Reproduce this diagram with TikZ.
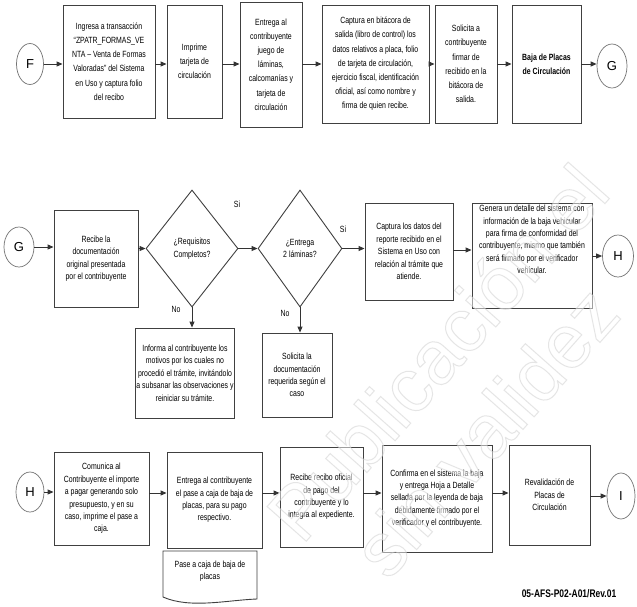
\documentclass[tikz,border=0pt]{standalone}
\usepackage{fontspec}
\setmainfont{Liberation Sans}[FakeStretch=0.77]
\newfontfamily\wmfont{Liberation Sans}
\usetikzlibrary{shapes.geometric,arrows.meta}

% outlined lettering for the watermark (stroke + white fill)
\newcommand\outlineon{\special{pdf:code 2 Tr 1 w 0.8 G 1 g}}
\newcommand\outlineoff{\special{pdf:code 0 Tr}}

\tikzset{
  box/.style={draw=black!75, line width=0.9pt, align=center, inner sep=1pt,
              font=\fontsize{9}{12.4}\selectfont},
  tallbox/.style={box, font=\fontsize{9}{14.2}\selectfont},
  conn/.style={ellipse, draw=black!55, line width=0.7pt, inner sep=0pt,
               font=\wmfont\fontsize{13}{13}\selectfont},
  decision/.style={diamond, draw=black!75, line width=0.9pt, inner sep=0pt,
                   align=center, font=\fontsize{9}{12.4}\selectfont},
  arr/.style={draw=black!80, line width=0.9pt, -{Triangle[length=6pt,width=5pt]}},
  lbl/.style={font=\fontsize{9}{10}\selectfont, inner sep=0pt},
  docshape/.style={draw=black!75, line width=0.9pt},
  wm/.style={anchor=base west, inner sep=0pt, rotate=48.5, text opacity=0.5,
             font=\wmfont\fontsize{76}{76}\selectfont}
}

\begin{document}
\begin{tikzpicture}[x=1pt,y=-1pt]
\useasboundingbox (0,0) rectangle (637,606);
\fill[white] (0,0) rectangle (637,606);

% ---------- first row ----------
\coordinate (r1) at (0,64);
\node[conn, minimum width=27pt, minimum height=41pt] (F) at (30,64) {F};
\node[tallbox, minimum width=92pt, minimum height=113pt] (b1) at (109,61.5)
  {Ingresa a transacción\\“ZPATR\_FORMAS\_VE\\NTA – Venta de Formas\\Valoradas” del Sistema\\en Uso y captura folio\\del recibo};
\node[tallbox, minimum width=55pt, minimum height=113pt] (b2) at (194.5,61.5)
  {Imprime\\tarjeta de\\circulación};
\node[tallbox, minimum width=62pt, minimum height=125pt] (b3) at (271,64.5)
  {Entrega al\\contribuyente\\juego de\\láminas,\\calcomanías y\\tarjeta de\\circulación};
\node[tallbox, minimum width=107pt, minimum height=118pt] (b4) at (375.5,64)
  {Captura en bitácora de\\salida (libro de control) los\\datos relativos a placa, folio\\de tarjeta de circulación,\\ejercicio fiscal, identificación\\oficial, así como nombre y\\firma de quien recibe.};
\node[tallbox, minimum width=62pt, minimum height=118pt] (b5) at (466,64)
  {Solicita a\\contribuyente\\firmar de\\recibido en la\\bitácora de\\salida.};
\node[tallbox, minimum width=69pt, minimum height=118pt, font=\bfseries\fontsize{9}{14.2}\selectfont] (b6) at (546.5,64)
  {Baja de Placas\\de Circulación};
\node[conn, minimum width=30pt, minimum height=44pt] (G1) at (612,66) {G};

\draw[arr] (F.east) -- (F.east -| b1.west);
\draw[arr] (b1.east |- r1) -- (b2.west |- r1);
\draw[arr] (b2.east |- r1) -- (b3.west |- r1);
\draw[arr] (b3.east |- r1) -- (b4.west |- r1);
\draw[arr] (b4.east |- r1) -- (b5.west |- r1);
\draw[arr] (b5.east |- r1) -- (b6.west |- r1);
\draw[arr] (b6.east |- r1) -- (G1.west |- r1);

% ---------- second row ----------
\coordinate (r2) at (0,250);
\node[conn, minimum width=30pt, minimum height=40pt] (G2) at (19,247) {G};
\node[box, minimum width=84pt, minimum height=97pt] (c1) at (96,258.5)
  {Recibe la\\documentación\\original presentada\\por el contribuyente};
\node[decision, minimum width=92pt, minimum height=117pt] (d1) at (192,248.5)
  {¿Requisitos\\Completos?};
\node[decision, minimum width=84pt, minimum height=117pt] (d2) at (300,248.5)
  {¿Entrega\\2 láminas?};
\node[box, minimum width=88pt, minimum height=97pt] (c2) at (409,251.5)
  {Captura los datos del\\reporte recibido en el\\Sistema en Uso con\\relación al trámite que\\atiende.};
\node[box, minimum width=120pt, minimum height=105pt, text depth=32pt] (c3) at (532,255.5)
  {Genera un detalle del sistema con\\información de la baja vehicular\\para firma de conformidad del\\contribuyente, mismo que también\\será firmado por el verificador\\vehicular.};
\node[conn, minimum width=31pt, minimum height=42pt] (H1) at (618,256) {H};
\node[box, minimum width=95pt, minimum height=90pt] (n1) at (185,373)
  {Informa al contribuyente los\\motivos por los cuales no\\procedió el trámite, invitándolo\\a subsanar las observaciones y\\reiniciar su trámite.};
\node[box, minimum width=70pt, minimum height=84pt] (n2) at (297,375)
  {Solicita la\\documentación\\requerida según el\\caso};

\draw[arr] (G2.east) -- (G2.east -| c1.west);
\draw[arr] (c1.east |- d1.west) -- (d1.west);
\draw[arr] (d1.east) -- (d2.west);
\draw[arr] (d2.east) -- (d2.east -| c2.west);
\draw[arr] (c2.east |- r2) -- (c3.west |- r2);
\draw[arr] (c3.east |- H1.west) -- (H1.west);
\draw[arr] (d1.south) -- (d1.south |- n1.north);
\draw[arr] (d2.south) -- (d2.south |- n2.north);

\node[lbl] (si1) at (237,204) {Si};
\node[lbl] (si2) at (343,229) {Si};
\node[lbl] (no1) at (176,309) {No};
\node[lbl] (no2) at (285,313) {No};

% ---------- third row ----------
\coordinate (r3) at (0,493);
\node[conn, minimum width=28pt, minimum height=40pt] (H2) at (30,492) {H};
\node[box, minimum width=95pt, minimum height=93pt] (e1) at (101.5,498.5)
  {Comunica al\\Contribuyente el importe\\a pagar generando solo\\presupuesto, y en su\\caso, imprime el pase a\\caja.};
\node[box, minimum width=95pt, minimum height=96pt] (e2) at (214.5,500)
  {Entrega al contribuyente\\el pase a caja de baja de\\placas, para su pago\\respectivo.};
\node[box, minimum width=83pt, minimum height=100pt] (e3) at (321.5,497)
  {Recibe recibo oficial\\de pago del\\contribuyente y lo\\integra al expediente.};
\node[box, minimum width=110pt, minimum height=107pt] (e4) at (437,498.5)
  {Confirma en el sistema la baja\\y entrega Hoja a Detalle\\sellada por la leyenda de baja\\debidamente firmado por el\\verificador y el contribuyente.};
\node[box, minimum width=81pt, minimum height=100pt] (e5) at (549.5,495)
  {Revalidación de\\Placas de\\Circulación};
\node[conn, minimum width=28pt, minimum height=46pt] (I) at (621,496) {I};

\draw[arr] (H2.east) -- (H2.east -| e1.west);
\draw[arr] (e1.east |- r3) -- (e2.west |- r3);
\draw[arr] (e2.east |- r3) -- (e3.west |- r3);
\draw[arr] (e3.east |- r3) -- (e4.west |- r3);
\draw[arr] (e4.east |- r3) -- (e5.west |- r3);
\draw[arr] (e5.east |- I.west) -- (I.west);

% document symbol under the second box
\draw[docshape] (257,551) -- (163,551) -- (163,597)
  .. controls (190,609) and (228,600) .. (257,599) -- cycle;
\node[box, draw=none] (doc) at (210,571) {Pase a caja de baja de\\placas};

% form code
\node[font=\bfseries\fontsize{11}{12}\selectfont, inner sep=0pt] (code) at (569,594)
  {05-AFS-P02-A01/Rev.01};

% ---------- watermark ----------
\begin{scope}
\clip (0,0) rectangle (637,606);
\node[wm] (wm1) at (302,546) {\outlineon Publicación el\outlineoff};
\node[wm] (wm2) at (388,582) {\outlineon sin validez\outlineoff};
\end{scope}
\end{tikzpicture}
\end{document}
